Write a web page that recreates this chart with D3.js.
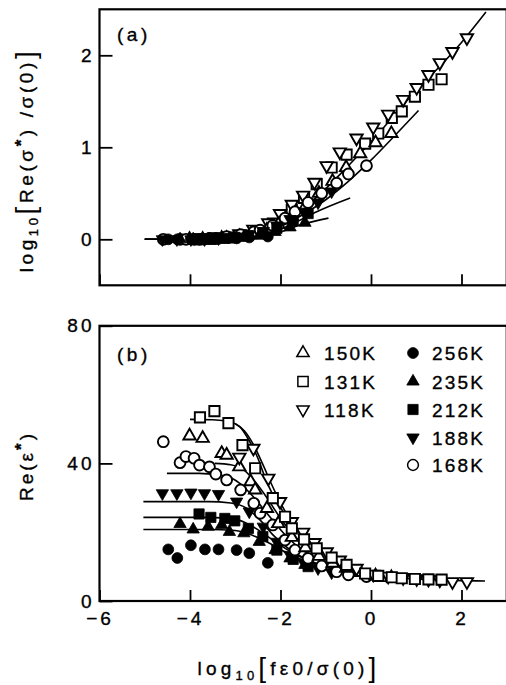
<!DOCTYPE html>
<html>
<head>
<meta charset="utf-8">
<script src="https://cdn.jsdelivr.net/npm/d3@7"></script>
<style>
  body { margin: 0; background: #fff; }
  text { font-family: "Liberation Sans", Arial, sans-serif; fill: #000; stroke: #000; stroke-width: 0.35px; }
</style>
</head>
<body>
<svg id="chart" width="506" height="685"></svg>
<script>
// ---- data ----
// x = log10[f eps0 / sigma(0)], eps = Re(eps*), sig = log10[Re(sigma*)/sigma(0)]
const x150 = [-4.01,-3.72,-3.30,-3.19,-2.91,-2.66,-2.56,-2.30,-2.05,-1.75,-1.45,-1.15,-0.85,-0.55,-0.24,0.10,0.45];
const eps150 = [48.0,47.3,42.9,42.4,39.0,34.7,32.3,26.9,22.5,18.5,15.5,13.0,11.0,9.5,8.3,7.3,6.8];
const sig150 = [0,0,0.01,0.01,0.03,0.05,0.06,0.10,0.16,0.25,0.36,0.50,0.63,0.78,0.93,1.05,1.15];

const x131 = [-3.78,-3.46,-3.15,-2.84,-2.56,-2.17,-1.90,-1.75,-1.48,-1.20,-0.87,-0.54,-0.13,0.16,0.46,0.68,0.97,1.27,1.56];
const eps131 = [53.4,55.2,51.7,45.3,38.6,29.9,24.5,21.1,17.9,15.3,12.6,10.5,8.0,7.3,6.9,6.6,6.4,6.3,6.2];
const sig131 = [0,0.01,0.02,0.04,0.08,0.17,0.26,0.32,0.45,0.60,0.78,0.92,1.04,1.15,1.32,1.39,1.55,1.68,1.74];

const x118 = [-2.91,-2.60,-2.27,-2.01,-1.75,-1.50,-1.25,-0.98,-0.69,-0.32,0.05,0.38,0.71,1.01,1.27,1.52,1.80,2.12];
const eps118 = [41.8,44.4,35.7,28.9,23.1,20.0,17.0,14.3,11.9,9.5,7.8,7.2,6.8,6.5,6.3,6.1,5.6,5.6];
const sig118 = [0.06,0.11,0.18,0.28,0.38,0.48,0.62,0.80,0.95,1.10,1.22,1.36,1.52,1.65,1.79,1.92,2.04,2.19];

const x256 = [-4.48,-4.28,-3.98,-3.67,-3.37,-2.97,-2.69,-2.28];
const eps256 = [15.0,12.5,16.2,15.0,15.0,14.8,13.9,11.1];
const sig256 = [0,0,0,0,0.01,0.01,0.02,0.03];

const x235 = [-4.22,-3.93,-3.60,-3.30,-3.13,-2.81,-2.47,-2.12,-1.79,-1.46];
const eps235 = [22.4,20.8,21.6,22.1,20.1,19.7,17.2,14.8,12.4,10.5];
const sig235 = [0,0,0,0.01,0.01,0.02,0.04,0.08,0.13,0.18];

const x212 = [-3.80,-3.54,-3.23,-3.01,-2.71,-2.39,-2.08,-1.72,-1.39];
const eps212 = [25.3,24.3,24.0,23.3,21.1,18.7,14.8,12.1,10.0];
const sig212 = [0,0,0.01,0.02,0.04,0.07,0.12,0.20,0.28];

const x188 = [-4.61,-4.29,-3.98,-3.68,-3.37,-2.97,-2.69,-2.38,-2.08,-1.79,-1.48,-1.17,-0.87];
const eps188 = [31.3,31.3,31.5,31.3,31.1,28.9,26.0,21.6,17.2,13.4,11.0,9.5,8.3];
const sig188 = [0,0,0,0,0.01,0.03,0.05,0.09,0.15,0.22,0.30,0.40,0.52];

const x168 = [-4.59,-4.22,-4.09,-3.91,-3.79,-3.57,-3.43,-3.19,-2.88,-2.59,-2.45,-2.17,-1.90,-1.68,-1.39,-1.09,-0.76,-0.50,-0.10];
const eps168 = [46.3,40.2,42.0,41.5,39.5,39.0,36.9,35.2,32.3,28.4,25.5,22.1,17.7,14.8,12.4,10.2,8.5,7.6,7.1];
const sig168 = [0,0,0,0,0,0.01,0.01,0.03,0.05,0.08,0.10,0.15,0.23,0.30,0.40,0.50,0.61,0.71,0.80];

// fit curves, panel (a)
const fitA1x = [-5.0,-4.0,-3.0,-2.5,-2.0,-1.5,-1.0,-0.5,0.0,0.5,1.0,1.5,2.0,2.54];
const fitA1y = [0,0,0.02,0.07,0.17,0.33,0.55,0.80,1.06,1.34,1.62,1.87,2.14,2.47];
const fitA2x = [-5.0,-4.0,-3.0,-2.5,-2.0,-1.5,-1.0,-0.5,0.0,0.57,1.05];
const fitA2y = [0,0,0.02,0.06,0.14,0.27,0.43,0.63,0.86,1.15,1.40];
const fitA3x = [-5.0,-4.0,-3.0,-2.5,-2.0,-1.6,-1.2,-0.46];
const fitA3y = [0,0,0.02,0.05,0.11,0.20,0.30,0.45];
const fitA4x = [-5.0,-4.0,-3.0,-2.5,-2.0,-1.53,-0.94];
const fitA4y = [0,0,0.01,0.03,0.08,0.16,0.23];

// fit curves, panel (b)
const fitB131x = [-4.0,-3.5,-3.1,-2.9,-2.7,-2.5,-2.3,-2.08,-1.86,-1.57,-1.2,-0.84,-0.4,0.05,0.64,1.37,2.52];
const fitB131y = [52.8,52.7,52.0,50.7,46.8,41.5,34.5,28.8,24.5,19.8,15.3,12.4,9.6,8.0,6.7,6.2,5.8];
const fitB118x = [-3.0,-2.8,-2.6,-2.4,-2.2,-2.0,-1.75,-1.45,-1.1,-0.7,-0.3,0.1];
const fitB118y = [51.5,49.5,45.5,40.0,34.0,28.5,23.0,18.5,14.5,11.3,9.2,7.9];
const fitB150x = [-3.45,-3.1,-2.8,-2.55,-2.3,-2.05,-1.8,-1.5,-1.15,-0.7,-0.2,0.2];
const fitB150y = [40.0,39.6,38.0,34.5,30.0,25.0,20.5,16.5,13.2,10.4,8.4,7.6];
const fitB168x = [-4.51,-3.8,-3.2,-2.9,-2.6,-2.3,-1.93,-1.57,-1.13,-0.61,-0.1];
const fitB168y = [37.1,37.1,36.3,34.2,30.3,25.5,19.7,15.3,12.0,9.5,7.9];
const fitB188x = [-5.03,-3.6,-3.1,-2.75,-2.45,-2.15,-1.8,-1.4,-1.0,-0.5,0.0];
const fitB188y = [28.9,28.9,28.5,27.0,23.5,19.0,15.0,12.0,10.0,8.5,7.7];
const fitB212x = [-5.03,-3.6,-3.0,-2.6,-2.2,-1.8,-1.4,-0.9,-0.3];
const fitB212y = [24.3,24.3,23.8,21.5,18.0,14.5,11.8,9.5,8.0];
const fitB235x = [-5.03,-3.6,-3.0,-2.6,-2.2,-1.8,-1.3,-0.8,-0.2];
const fitB235y = [20.8,20.8,20.5,19.0,16.5,13.5,11.0,9.2,7.9];

const xTicks = [-6, -4, -2, 0, 2];
const yTicksA = [0, 1, 2];
const yTicksB = [0, 40, 80];

// series: label, symbol type, open?, arrays
const series = [
  { label: "256K", sym: "circle", open: false, x: x256, eps: eps256, sig: sig256 },
  { label: "235K", sym: "up", open: false, x: x235, eps: eps235, sig: sig235 },
  { label: "212K", sym: "square", open: false, x: x212, eps: eps212, sig: sig212 },
  { label: "188K", sym: "down", open: false, x: x188, eps: eps188, sig: sig188 },
  { label: "168K", sym: "circle", open: true, x: x168, eps: eps168, sig: sig168 },
  { label: "150K", sym: "up", open: true, x: x150, eps: eps150, sig: sig150 },
  { label: "118K", sym: "down", open: true, x: x118, eps: eps118, sig: sig118 },
  { label: "131K", sym: "square", open: true, x: x131, eps: eps131, sig: sig131 }
];

const fitsA = [[fitA1x, fitA1y], [fitA2x, fitA2y], [fitA3x, fitA3y], [fitA4x, fitA4y]];
const fitsB = [[fitB131x, fitB131y], [fitB118x, fitB118y], [fitB150x, fitB150y], [fitB168x, fitB168y],
               [fitB188x, fitB188y], [fitB212x, fitB212y], [fitB235x, fitB235y]];

const svg = d3.select("#chart");

const x = d3.scaleLinear().domain([-6, 3]).range([99.5, 506.75]);
const yA = d3.scaleLinear().domain([-0.5, 2.5]).range([285.3, 9.3]);
const yB = d3.scaleLinear().domain([0, 80]).range([601, 325.8]);

const symGen = {
  circle: d3.symbol().type(d3.symbolCircle).size(92),
  square: d3.symbol().type(d3.symbolSquare).size(105),
  up: d3.symbol().type(d3.symbolTriangle).size(66),
  down: d3.symbol().type(d3.symbolTriangle).size(66)
};

function drawSymbol(g, s, px, py, sw) {
  const rot = s.sym === "down" ? " rotate(180)" : "";
  g.append("path")
    .attr("d", symGen[s.sym]())
    .attr("transform", `translate(${px},${py})${rot}`)
    .attr("fill", s.open ? "#fff" : "#000")
    .attr("stroke", "#000")
    .attr("stroke-width", s.open ? (sw || 1.9) : 0.8);
}

function panel(y, yTicks, showXLabels, fits, key, filledOnTop) {
  const g = svg.append("g");

  const line = d3.line().x(d => x(d[0])).y(d => y(d[1])).curve(d3.curveMonotoneX);
  fits.forEach(f => {
    g.append("path")
      .attr("d", line(f[0].map((v, i) => [v, f[1][i]])))
      .attr("fill", "none")
      .attr("stroke", "#000")
      .attr("stroke-width", 1.6);
  });

  const order = filledOnTop ? series.slice().reverse() : series;
  order.forEach(s => {
    s.x.forEach((v, i) => drawSymbol(g, s, x(v), y(s[key][i])));
  });

  // frame
  g.append("rect")
    .attr("x", x(-6)).attr("y", y.range()[1])
    .attr("width", x(3) - x(-6)).attr("height", y.range()[0] - y.range()[1])
    .attr("fill", "none").attr("stroke", "#000").attr("stroke-width", 2.2);

  const xa = g.append("g")
    .attr("transform", `translate(0,${y.range()[0]})`)
    .call(d3.axisBottom(x).tickValues(xTicks).tickSize(-11).tickPadding(11)
      .tickFormat(showXLabels ? d3.format("d") : () => ""));
  const ya = g.append("g")
    .attr("transform", `translate(${x(-6)},0)`)
    .call(d3.axisLeft(y).tickValues(yTicks).tickSize(-13).tickPadding(5).tickFormat(d3.format("d")));

  [xa, ya].forEach(a => {
    a.select(".domain").remove();
    a.selectAll(".tick line").attr("stroke", "#000").attr("stroke-width", 1.8);
    a.selectAll(".tick text")
      .attr("fill", "#000")
      .style("font-family", '"Liberation Sans", Arial, sans-serif')
      .style("font-size", "19px")
      .style("letter-spacing", "3px");
  });
  return g;
}

panel(yA, yTicksA, false, fitsA, "sig", true);
panel(yB, yTicksB, true, fitsB, "eps", false);

// panel tags
svg.append("text").attr("x", 117).attr("y", 41).style("font-size", "19px")
  .style("letter-spacing", "3.5px").text("(a)");
svg.append("text").attr("x", 117).attr("y", 361).style("font-size", "19px")
  .style("letter-spacing", "3.5px").text("(b)");

// legend
const legendCols = [
  { sx: 303, tx: 324, items: ["150K", "131K", "118K"] },
  { sx: 413, tx: 432, items: ["256K", "235K", "212K", "188K", "168K"] }
];
const legendRows = [353, 381.5, 409.5, 437.5, 465];
const lg = svg.append("g");
legendCols.forEach(c => {
  c.items.forEach((lab, i) => {
    const s = series.find(d => d.label === lab);
    drawSymbol(lg, s, c.sx, legendRows[i], 1.5);
    lg.append("text").attr("x", c.tx).attr("y", legendRows[i] + 7)
      .style("font-size", "19px").style("letter-spacing", "2.2px").text(lab);
  });
});

// axis titles
const ta = svg.append("text")
  .attr("transform", "translate(33,160) rotate(-90)")
  .attr("text-anchor", "middle")
  .style("font-size", "19px").style("letter-spacing", "3.6px");
ta.append("tspan").text("log");
ta.append("tspan").attr("dy", 5).style("font-size", "13px").text("10");
ta.append("tspan").attr("dy", -3).style("font-size", "28px").style("stroke-width", "0").text("[");
ta.append("tspan").attr("dy", -2).text("Re(σ");
ta.append("tspan").attr("dy", -6).style("font-weight", "bold").style("font-size", "17px").text("*");
ta.append("tspan").attr("dy", 6).text(") /σ(0)");
ta.append("tspan").attr("dy", 2).style("font-size", "28px").style("stroke-width", "0").text("]");

svg.append("text")
  .attr("transform", "translate(33,466) rotate(-90)")
  .attr("text-anchor", "middle")
  .style("font-size", "19px").style("letter-spacing", "3px")
  .call(t => {
    t.append("tspan").text("Re(ε");
    t.append("tspan").attr("dy", -6).style("font-weight", "bold").style("font-size", "17px").text("*");
    t.append("tspan").attr("dy", 6).text(")");
  });

const tx = svg.append("text")
  .attr("x", 289).attr("y", 675)
  .attr("text-anchor", "middle")
  .style("font-size", "19px").style("letter-spacing", "4.2px");
tx.append("tspan").text("log");
tx.append("tspan").attr("dy", 5).style("font-size", "13px").text("10");
tx.append("tspan").attr("dy", -3).style("font-size", "28px").style("stroke-width", "0").text("[");
tx.append("tspan").attr("dy", -2).text("fε0/σ(0)");
tx.append("tspan").attr("dy", 2).style("font-size", "28px").style("stroke-width", "0").text("]");
</script>
</body>
</html>
